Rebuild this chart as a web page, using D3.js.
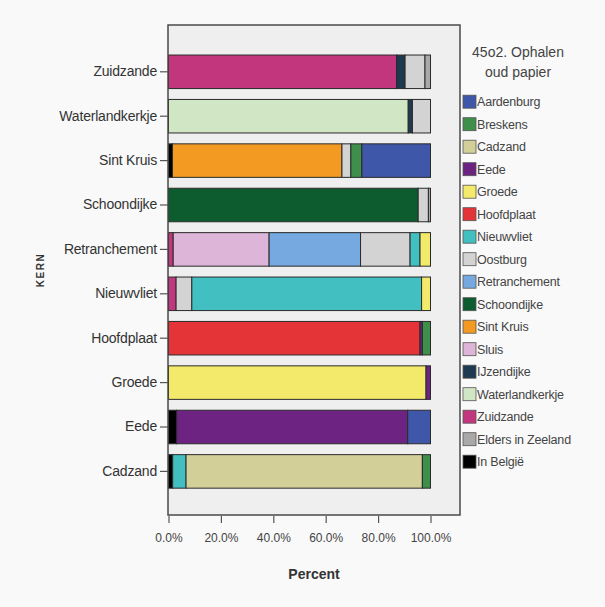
<!DOCTYPE html>
<html>
<head>
<meta charset="utf-8">
<script src="https://cdn.jsdelivr.net/npm/d3@7"></script>
<style>
  html, body { margin: 0; padding: 0; background: #f9f9f9; }
  svg { display: block; }
  text { font-family: "Liberation Sans", Arial, sans-serif; }
</style>
</head>
<body>
<svg id="chart" width="605" height="607"></svg>
<script>
// ---- data ----
const categories = ["Zuidzande", "Waterlandkerkje", "Sint Kruis", "Schoondijke", "Retranchement",
  "Nieuwvliet", "Hoofdplaat", "Groede", "Eede", "Cadzand"];

const legendTitle = ["45o2. Ophalen", "oud papier"];
const legendNames = ["Aardenburg", "Breskens", "Cadzand", "Eede", "Groede", "Hoofdplaat", "Nieuwvliet",
  "Oostburg", "Retranchement", "Schoondijke", "Sint Kruis", "Sluis", "IJzendijke", "Waterlandkerkje",
  "Zuidzande", "Elders in Zeeland", "In België"];
const legendColors = ["#3f57a8", "#3d8f4a", "#d3cf98", "#6d2382", "#f3ea6c", "#e53438", "#42bfc0",
  "#d3d3d3", "#75a9df", "#0c5c30", "#f39a23", "#dcb5d8", "#1e3a50", "#d0e6c4",
  "#c2367d", "#a9a9a9", "#000000"];

// stacking order, left to right
const stackOrder = ["In België", "Zuidzande", "Waterlandkerkje", "IJzendijke", "Sluis", "Sint Kruis",
  "Schoondijke", "Retranchement", "Oostburg", "Nieuwvliet", "Hoofdplaat", "Groede", "Eede",
  "Cadzand", "Breskens", "Aardenburg", "Elders in Zeeland"];

// percentages per series, aligned with categories
const inBelgie        = [0, 0, 1.5, 0, 0, 0, 0, 0, 3.1, 1.6];
const zuidzande       = [87.1, 0, 0, 0, 1.8, 2.9, 0, 0, 0, 0];
const waterlandkerkje = [0, 91.5, 0, 0, 0, 0, 0, 0, 0, 0];
const ijzendijke      = [3.2, 1.6, 0, 0, 0, 0, 0, 0, 0, 0];
const sluis           = [0, 0, 0, 0, 36.6, 0, 0, 0, 0, 0];
const sintKruis       = [0, 0, 64.7, 0, 0, 0, 0, 0, 0, 0];
const schoondijke     = [0, 0, 0, 95.3, 0, 0, 0, 0, 0, 0];
const retranchement   = [0, 0, 0, 0, 34.9, 0, 0, 0, 0, 0];
const oostburg        = [7.6, 6.9, 3.4, 3.9, 18.9, 6.0, 0, 0, 0, 0];
const nieuwvliet      = [0, 0, 0, 0, 3.8, 87.7, 0, 0, 0, 5.1];
const hoofdplaat      = [0, 0, 0, 0, 0, 0, 96.0, 0, 0, 0];
const groede          = [0, 0, 0, 0, 4.0, 3.4, 0, 98.3, 0, 0];
const eede            = [0, 0, 0, 0, 0, 0, 0.9, 1.7, 88.2, 0];
const cadzand         = [0, 0, 0, 0, 0, 0, 0, 0, 0, 90.2];
const breskens        = [0, 0, 4.2, 0, 0, 0, 3.1, 0, 0, 3.1];
const aardenburg      = [0, 0, 26.2, 0, 0, 0, 0, 0, 8.7, 0];
const eldersInZeeland = [2.1, 0, 0, 0.8, 0, 0, 0, 0, 0, 0];

const xTicks = [0, 20, 40, 60, 80, 100];

// ---- build table ----
const seriesValues = {
  "In België": inBelgie, "Zuidzande": zuidzande, "Waterlandkerkje": waterlandkerkje,
  "IJzendijke": ijzendijke, "Sluis": sluis, "Sint Kruis": sintKruis, "Schoondijke": schoondijke,
  "Retranchement": retranchement, "Oostburg": oostburg, "Nieuwvliet": nieuwvliet,
  "Hoofdplaat": hoofdplaat, "Groede": groede, "Eede": eede, "Cadzand": cadzand,
  "Breskens": breskens, "Aardenburg": aardenburg, "Elders in Zeeland": eldersInZeeland
};
const table = categories.map((c, i) => {
  const row = { kern: c };
  stackOrder.forEach(k => row[k] = seriesValues[k][i]);
  return row;
});
const color = d3.scaleOrdinal().domain(legendNames).range(legendColors);

// ---- layout ----
const svg = d3.select("#chart");
const frame = { left: 168, right: 460, top: 25, bottom: 515 };

const x = d3.scaleLinear().domain([0, 100]).range([168.5, 430.5]);
const y = d3.scaleBand().domain(categories).range([49.6, 493.6])
  .paddingInner(0.245).paddingOuter(0.1225);

// plot background
svg.append("rect")
  .attr("x", frame.left).attr("y", frame.top)
  .attr("width", frame.right - frame.left).attr("height", frame.bottom - frame.top)
  .attr("fill", "#efefef");

// bars
const stacked = d3.stack().keys(stackOrder)(table);
svg.append("g").selectAll("g")
  .data(stacked)
  .join("g")
  .attr("fill", d => color(d.key))
  .selectAll("rect")
  .data(d => d.filter(s => s[1] - s[0] > 0))
  .join("rect")
  .attr("x", d => x(d[0]))
  .attr("y", d => y(d.data.kern))
  .attr("width", d => x(d[1]) - x(d[0]))
  .attr("height", y.bandwidth())
  .attr("stroke", "#2a2a2a")
  .attr("stroke-width", 1);

// frame
svg.append("rect")
  .attr("x", frame.left).attr("y", frame.top)
  .attr("width", frame.right - frame.left).attr("height", frame.bottom - frame.top)
  .attr("fill", "none").attr("stroke", "#4a4a4a").attr("stroke-width", 1.5);

// x axis
const xAxis = d3.axisBottom(x).tickValues(xTicks)
  .tickFormat(d => d3.format(".1f")(d) + "%")
  .tickSize(7).tickPadding(10);
const gx = svg.append("g").attr("transform", `translate(0,${frame.bottom + 1})`).call(xAxis);
gx.select(".domain").remove();
gx.selectAll(".tick line").attr("stroke", "#555").attr("stroke-width", 1.2);
gx.selectAll(".tick text").attr("fill", "#444").style("font-size", "12px");

// y axis
const yAxis = d3.axisLeft(y).tickSize(8).tickPadding(3);
const gy = svg.append("g").attr("transform", `translate(${frame.left},0)`).call(yAxis);
gy.select(".domain").remove();
gy.selectAll(".tick line").attr("stroke", "#555").attr("stroke-width", 1.2);
gy.selectAll(".tick text").attr("fill", "#333").style("font-size", "14px")
  .style("letter-spacing", "-0.2px");

// axis titles
svg.append("text")
  .attr("x", 314).attr("y", 579)
  .attr("text-anchor", "middle")
  .style("font-size", "14px").style("font-weight", "bold").attr("fill", "#333")
  .text("Percent");

svg.append("text")
  .attr("transform", "translate(44,270) rotate(-90)")
  .attr("text-anchor", "middle")
  .style("font-size", "10px").style("font-weight", "bold").style("letter-spacing", "1.5px")
  .attr("fill", "#333")
  .text("KERN");

// legend
const lg = svg.append("g");
lg.selectAll("text.title")
  .data(legendTitle)
  .join("text")
  .attr("class", "title")
  .attr("x", 518).attr("y", (d, i) => 57 + i * 20)
  .attr("text-anchor", "middle")
  .style("font-size", "14px").attr("fill", "#444")
  .text(d => d);

const item = lg.selectAll("g.item")
  .data(legendNames)
  .join("g")
  .attr("class", "item")
  .attr("transform", (d, i) => `translate(463,${101.7 + i * 22.5})`);
item.append("rect")
  .attr("x", 0).attr("y", -6.5).attr("width", 13).attr("height", 13)
  .attr("fill", d => color(d)).attr("stroke", "#555").attr("stroke-width", 0.8);
item.append("text")
  .attr("x", 14).attr("y", 4.5)
  .style("font-size", "12.5px").style("letter-spacing", "-0.2px").attr("fill", "#444")
  .text(d => d);
</script>
</body>
</html>
